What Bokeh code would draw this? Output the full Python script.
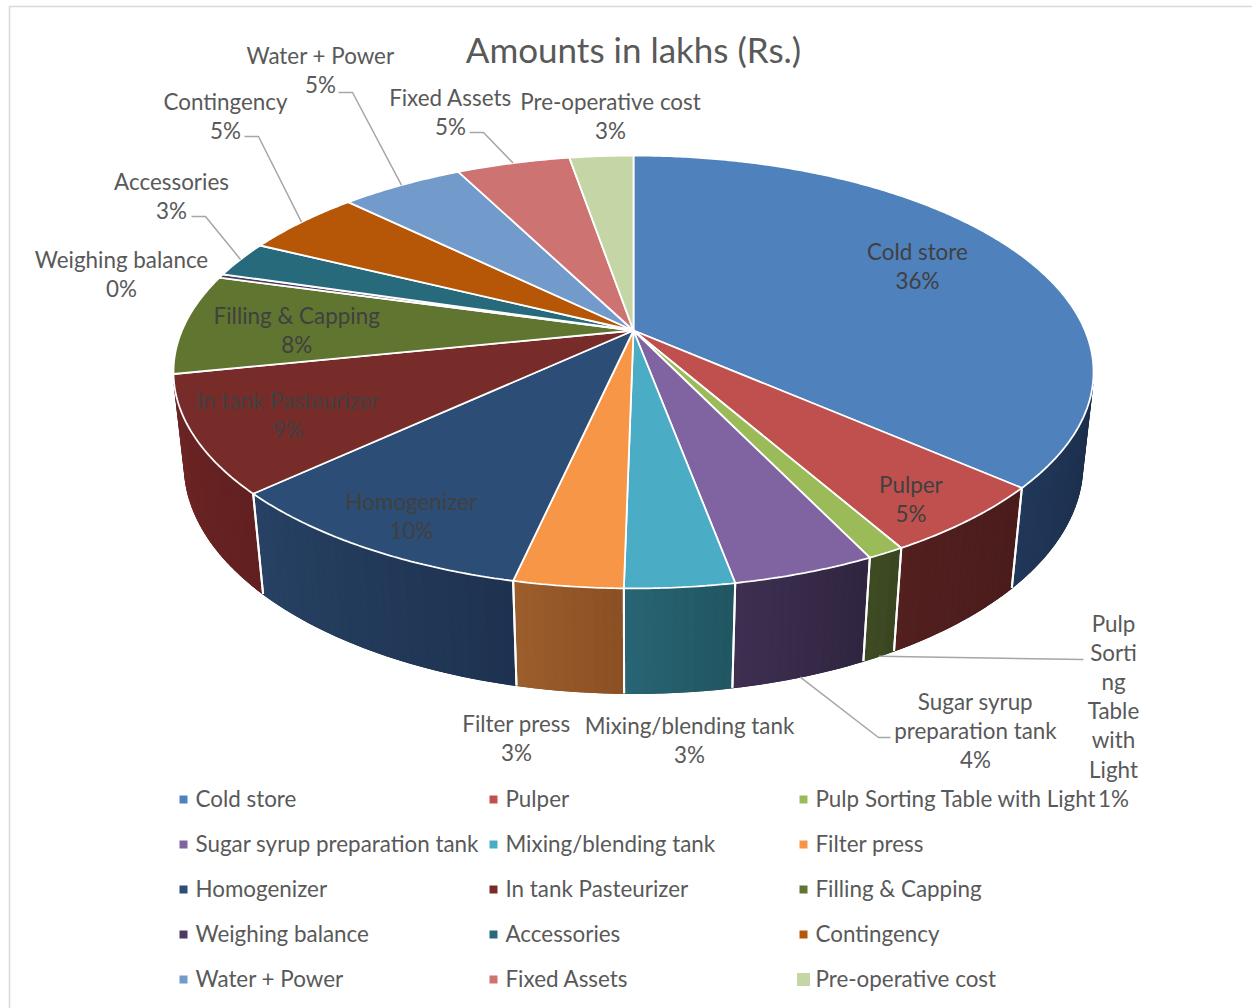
import numpy as np
from bokeh.plotting import figure
from bokeh.models import Range1d
from bokeh.core.properties import value
from bokeh.embed import file_html
from bokeh.resources import INLINE

# ---------------- data ----------------
chart_title = "Amounts in lakhs (Rs.)"
categories = ["Cold store", "Pulper", "Pulp Sorting Table with Light",
              "Sugar syrup preparation tank", "Mixing/blending tank", "Filter press",
              "Homogenizer", "In tank Pasteurizer", "Filling & Capping",
              "Weighing balance", "Accessories", "Contingency",
              "Water + Power", "Fixed Assets", "Pre-operative cost"]
amounts = [36.45, 5.3, 1.1, 4.2, 3.2, 3.2, 9.6, 8.7, 7.5, 0.3, 2.7, 5.0, 5.2, 4.8, 2.7]

# ---------------- style ----------------
top_colors = ["#4F81BD", "#C0504D", "#9BBB59", "#8064A2", "#4BACC6", "#F79646",
              "#2C4D75", "#772C2A", "#5F7530", "#4D3B62", "#276A7C", "#B65708",
              "#729ACA", "#CD7371", "#C4D6A6"]
# wall colours (screen-left, screen-right) for the front side
wall_cols = {
    "Cold store": ("#21385A", "#1C2E4A"),
    "Pulper": ("#531F1F", "#4A1C1C"),
    "Pulp Sorting Table with Light": ("#3F4C23", "#394520"),
    "Sugar syrup preparation tank": ("#3E2F52", "#302540"),
    "Mixing/blending tank": ("#286574", "#215562"),
    "Filter press": ("#9C5E2C", "#8A4F23"),
    "Homogenizer": ("#274264", "#1E3250"),
    "In tank Pasteurizer": ("#6E2525", "#622020"),
    "Filling & Capping": ("#4E6128", "#4A5C26"),
}
FONT = "Lato"
TXT = "#595959"
INTXT = "#404040"
FS = "22.4px"
TY = -1.5  # global text vertical nudge

# projection (camera) parameters
CX, CY = 633.0, 330.0
FOC = 2090.5
DIST = 4.63
TILT = np.radians(27.5)
DEPTH = 0.233


def proj(theta, r=1.0, yy=0.0):
    theta = np.asarray(theta, dtype=float)
    X = r * np.sin(theta)
    Z = r * np.cos(theta)
    yc = yy * np.cos(TILT) + Z * np.sin(TILT)
    zc = DIST + Z * np.cos(TILT) - yy * np.sin(TILT)
    return CX + FOC * X / zc, CY - FOC * yc / zc


def hex2rgb(h):
    h = h.lstrip("#")
    return np.array([int(h[i:i + 2], 16) for i in (0, 2, 4)], dtype=float)


def rgb2hex(c):
    c = np.clip(np.round(c), 0, 255).astype(int)
    return "#%02x%02x%02x" % tuple(c)


total = float(sum(amounts))
fracs = [a / total for a in amounts]
pct_labels = ["%d%%" % int(round(100 * f)) for f in fracs]
starts = np.concatenate([[0.0], np.cumsum(fracs)[:-1]]) * 2 * np.pi
ends = starts + np.array(fracs) * 2 * np.pi
mids = (starts + ends) / 2

p = figure(width=1252, height=1008, x_range=Range1d(0, 1252), y_range=Range1d(1008, 0),
           output_backend="svg", toolbar_location=None, min_border=0,
           x_axis_type=None, y_axis_type=None)
p.grid.visible = False
p.outline_line_color = None
p.background_fill_color = "white"
p.border_fill_color = "white"

# chart border
p.quad(left=[9], right=[1300], top=[6], bottom=[1100], fill_color=None,
       line_color="#D9D9D9", line_width=1.5)

# ---------------- side walls ----------------
cosT = -1.0 / (DIST * np.cos(TILT))
th_lo = np.arccos(cosT)            # right silhouette
th_hi = 2 * np.pi - th_lo          # left silhouette
base_x, base_y, base_c = [], [], []
wx, wy, wc = [], [], []
bx, by = [], []
for i, cat in enumerate(categories):
    a = max(starts[i], th_lo)
    b = min(ends[i], th_hi)
    if b <= a:
        continue
    lc, rc = wall_cols.get(cat, (top_colors[i], top_colors[i]))
    lc, rc = hex2rgb(lc), hex2rgb(rc)
    # base patch of the whole wall piece (hides seams between strips)
    ts_all = np.linspace(a, b, 60)
    x0, y0 = proj(ts_all)
    x1, y1 = proj(ts_all[::-1], yy=-DEPTH)
    base_x.append(list(x0) + list(x1))
    base_y.append(list(y0) + list(y1))
    base_c.append(rgb2hex((lc + rc) / 2))
    n = max(2, int(np.degrees(b - a)))
    ts = np.linspace(a, b, n + 1)
    for k in range(n):
        t0, t1 = ts[k], ts[k + 1]
        x0, y0 = proj([t0, t1])
        x1, y1 = proj([t1, t0], yy=-DEPTH)
        wx.append(list(x0) + list(x1))
        wy.append(list(y0) + list(y1))
        tt = ((t0 + t1) / 2 - a) / (b - a)
        wc.append(rgb2hex(rc + tt * (lc - rc)))
    for t in (starts[i], ends[i]):
        if th_lo < t < th_hi:
            xa, ya = proj([t, t], yy=np.array([0.0, -DEPTH]))
            bx.append(list(xa))
            by.append(list(ya))
p.patches(base_x, base_y, fill_color=base_c, line_color=base_c, line_width=1)
p.patches(wx, wy, fill_color=wc, line_color=wc, line_width=1.2)
p.multi_line(bx, by, line_color="white", line_width=2)

# ---------------- top faces ----------------
tx, ty = [], []
for i in range(len(categories)):
    n = max(3, int(np.degrees(ends[i] - starts[i]) * 2))
    ts = np.linspace(starts[i], ends[i], n + 1)
    ax, ay = proj(ts)
    tx.append([CX] + list(ax))
    ty.append([CY] + list(ay))
p.patches(tx, ty, fill_color=top_colors, line_color="white", line_width=1.8)

# ---------------- data labels ----------------
inside = {"Cold store": (0.73, -4), "Pulper": (0.85, 13), "Homogenizer": (0.85, 8),
          "In tank Pasteurizer": (0.80, 4), "Filling & Capping": (0.75, 6)}
outside = {
    "Weighing balance": (121, 260),
    "Accessories": (171, 182),
    "Contingency": (225, 102),
    "Water + Power": (320, 56),
    "Fixed Assets": (450, 98),
    "Pre-operative cost": (610, 102),
    "Filter press": (516, 724),
    "Mixing/blending tank": (689, 726),
    "Sugar syrup preparation tank": (975, 702),
    "Pulp Sorting Table with Light": (1113, 624),
}
wraps = {"Sugar syrup preparation tank": ["Sugar syrup", "preparation tank"],
         "Pulp Sorting Table with Light": ["Pulp", "Sorti", "ng", "Table", "with", "Light"]}
LINE = 29.2

in_x, in_y, in_t = [], [], []
out_x, out_y, out_t = [], [], []
for i, cat in enumerate(categories):
    lines = wraps.get(cat, [cat]) + [pct_labels[i]]
    if cat in inside:
        r, dy = inside[cat]
        mx, my = proj(mids[i], r=r)
        y0 = float(my) + dy - LINE * (len(lines) - 1) / 2
        for k, s in enumerate(lines):
            in_x.append(float(mx)); in_y.append(y0 + k * LINE + TY); in_t.append(s)
    else:
        ox, oy = outside[cat]
        for k, s in enumerate(lines):
            out_x.append(ox); out_y.append(oy + k * LINE + TY); out_t.append(s)

p.text(x=in_x, y=in_y, text=in_t, text_font=value(FONT), text_font_size=FS,
       text_color=INTXT, text_align="center", text_baseline="middle")
p.text(x=out_x, y=out_y, text=out_t, text_font=value(FONT), text_font_size=FS,
       text_color=TXT, text_align="center", text_baseline="middle")

# leader lines
leaders = {"Water + Power": [(338, 92), (352, 92)],
           "Contingency": [(244, 136), (258, 136)],
           "Accessories": [(191, 216), (205, 216)],
           "Fixed Assets": [(469, 132), (483, 132)],
           "Sugar syrup preparation tank": [(890, 737), (878, 737)],
           "Pulp Sorting Table with Light": [(1083, 659)]}
front_leaders = {"Sugar syrup preparation tank", "Pulp Sorting Table with Light"}
lx, ly = [], []
for i, cat in enumerate(categories):
    if cat not in leaders:
        continue
    pts = leaders[cat]
    if cat in front_leaders:
        ex, ey = proj(mids[i], yy=-DEPTH)
    else:
        ex, ey = proj(mids[i])
    lx.append([q[0] for q in pts] + [float(ex)])
    ly.append([q[1] for q in pts] + [float(ey)])
p.multi_line(lx, ly, line_color="#A6A6A6", line_width=1.5)

# ---------------- title ----------------
p.text(x=[633], y=[50 + TY], text=[chart_title], text_font=value(FONT), text_font_size="35px",
       text_color=TXT, text_align="center", text_baseline="middle")

# ---------------- legend ----------------
col_x = [183, 493, 803]
row_y0, row_dy = 799, 45
mk_sizes = [8] * (len(categories) - 1) + [13]
lgx = [col_x[i % 3] for i in range(len(categories))]
lgy = [row_y0 + row_dy * (i // 3) for i in range(len(categories))]
p.scatter(x=lgx, y=lgy, marker="square", size=mk_sizes, fill_color=top_colors,
          line_color=None)
p.text(x=[v + 12 for v in lgx], y=[v + TY for v in lgy], text=categories, text_font=value(FONT),
       text_font_size=FS, text_color=TXT, text_align="left", text_baseline="middle")

open("out.html", "w").write(file_html(p, INLINE))
